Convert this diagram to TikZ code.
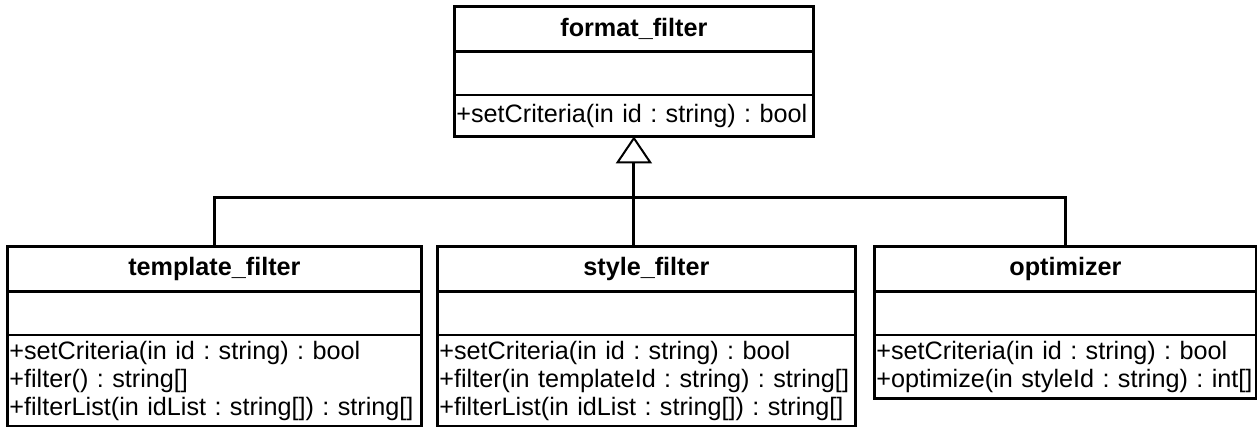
\documentclass[tikz,border=0pt]{standalone}
\usepackage{fontspec}
\setmainfont{Liberation Sans}
\usetikzlibrary{arrows.meta,positioning}

\begin{document}
\begin{tikzpicture}[x=0.5pt,y=-0.5pt,
    node distance=0pt,
    cname/.style={text width=#1,inner xsep=1pt,inner ysep=0pt,minimum height=22pt,
      align=center,font=\bfseries\fontsize{12.6}{14}\selectfont\frenchspacing,anchor=north west},
    cattr/.style={text width=#1,inner xsep=1pt,inner ysep=0pt,minimum height=21pt},
    cops/.style={text width=#1,inner xsep=1pt,inner ysep=3pt,minimum height=20.5pt,
      align=left,font=\fontsize{12.6}{14}\selectfont\frenchspacing},
    frame/.style={line width=1.5pt},
    sep/.style={line width=1pt},
    line/.style={line width=1.5pt},
    gen/.style={line,-{Triangle[open,length=13.5pt,width=18pt,line width=1pt]}}]
    \useasboundingbox (0,0) rectangle (1257,427);
    % base class
    \node[cname=177.5pt] (fmt) at (454,7) {format\_filter};
    \node[cattr=177.5pt,below=of fmt] (fmt-at) {};
    \node[cops=177.5pt,below=of fmt-at] (fmt-op) {+setCriteria(in id : string) : bool};
    % subclasses
    \node[cname=205pt] (tpl) at (7,247) {template\_filter};
    \node[cattr=205pt,below=of tpl] (tpl-at) {};
    \node[cops=205pt,below=of tpl-at] (tpl-op) {+setCriteria(in id : string) : bool\\
      +filter() : string[]\\ +filterList(in idList : string[]) : string[]};
    \node[cname=207pt] (sty) at (437,247) {style\_filter};
    \node[cattr=207pt,below=of sty] (sty-at) {};
    \node[cops=207pt,below=of sty-at] (sty-op) {+setCriteria(in id : string) : bool\\
      +filter(in templateId : string) : string[]\\ +filterList(in idList : string[]) : string[]};
    \node[cname=189pt] (opt) at (874,247) {optimizer};
    \node[cattr=189pt,below=of opt] (opt-at) {};
    \node[cops=189pt,below=of opt-at] (opt-op) {+setCriteria(in id : string) : bool\\
      +optimize(in styleId : string) : int[]};
    \foreach \cls in {fmt,tpl,sty,opt} {
      \draw[frame] (\cls.north west) rectangle (\cls-op.south east);
      \draw[frame] (\cls.south west) -- (\cls.south east);
      \draw[sep] (\cls-at.south west) -- (\cls-at.south east);
    }
    % generalization
    \coordinate[below=30.5pt of fmt-op.south] (bar);
    \draw[line] (tpl.north) |- (bar) -| (opt.north);
    \draw[gen] (sty.north -| bar) -- (fmt-op.south);
  \end{tikzpicture}
\end{document}
